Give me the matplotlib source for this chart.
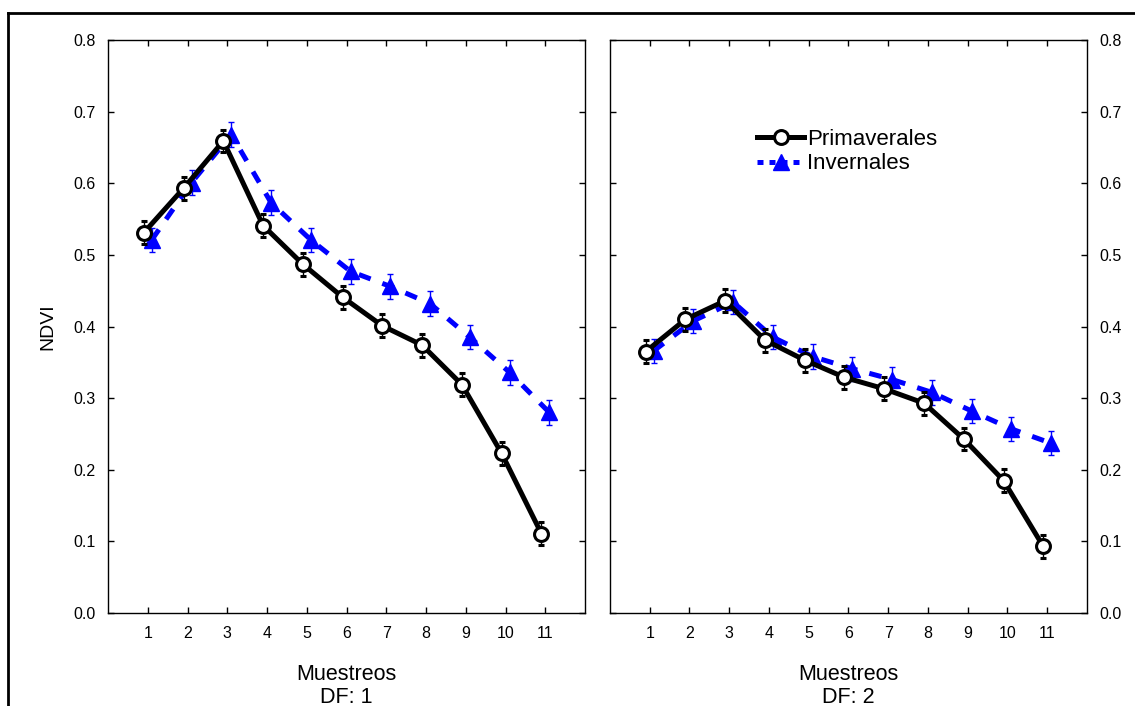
import numpy as np
import matplotlib
matplotlib.use("Agg")
import matplotlib.pyplot as plt
from matplotlib.lines import Line2D

plt.rcParams['font.family'] = ['Liberation Sans', 'DejaVu Sans']

# datos
muestreos = [1, 2, 3, 4, 5, 6, 7, 8, 9, 10, 11]
paneles = ['DF: 1', 'DF: 2']

prim_df1 = [0.531, 0.593, 0.659, 0.541, 0.487, 0.441, 0.401, 0.374, 0.319, 0.223, 0.111]
inv_df1 = [0.521, 0.601, 0.668, 0.573, 0.521, 0.477, 0.456, 0.432, 0.385, 0.336, 0.280]
prim_df2 = [0.365, 0.410, 0.436, 0.381, 0.353, 0.329, 0.313, 0.293, 0.243, 0.185, 0.093]
inv_df2 = [0.366, 0.408, 0.434, 0.385, 0.358, 0.341, 0.326, 0.308, 0.282, 0.257, 0.237]
err_prim = 0.016
err_inv = 0.017

prim = [prim_df1, prim_df2]
inv = [inv_df1, inv_df2]
azul = '#0000ff'

fig = plt.figure(figsize=(11.35, 7.06), dpi=100)
ax1 = fig.add_axes([0.0952, 0.1317, 0.4203, 0.8116])
ax2 = fig.add_axes([0.5374, 0.1317, 0.4203, 0.8116])

x = np.array(muestreos)
for i, ax in enumerate([ax1, ax2]):
    ax.errorbar(x - 0.1, prim[i], yerr=err_prim, color='black', lw=3.6,
                marker='o', ms=10, mfc='white', mec='black', mew=2.2,
                ecolor='black', elinewidth=1, capsize=2, capthick=1, zorder=3)
    ax.errorbar(x + 0.1, inv[i], yerr=err_inv, color=azul, lw=3.6,
                ls=(0, (2.5, 2.5)), marker='^', ms=11, mfc=azul, mec=azul,
                ecolor=azul, elinewidth=1, capsize=2, capthick=1, zorder=2)
    ax.set_xlim(0, 12)
    ax.set_ylim(0, 0.8)
    ax.set_xticks(muestreos)
    ax.set_yticks(np.arange(0, 0.81, 0.1))
    ax.yaxis.set_major_formatter(matplotlib.ticker.FormatStrFormatter('%.1f'))
    ax.tick_params(direction='in', top=True, right=True, left=True,
                   labelsize=11.5, length=4, width=1, pad=9)
    ax.set_xlabel('Muestreos\n' + paneles[i], fontsize=15.5, labelpad=17,
                  linespacing=1.1)
    for s in ax.spines.values():
        s.set_linewidth(1)

ax1.set_ylabel('NDVI', fontsize=14, labelpad=12)
ax2.tick_params(labelleft=False, labelright=True)

handles = [Line2D([], [], color='black', lw=3.6, marker='o', ms=10,
                  mfc='white', mec='black', mew=2.2),
           Line2D([], [], color=azul, lw=3.6, ls=(0, (1.2, 1.2)), marker='^',
                  ms=11, mfc=azul, mec=azul)]
ax2.legend(handles, ['Primaverales', 'Invernales'], loc='upper left',
           bbox_to_anchor=(0.29, 0.86), frameon=False, fontsize=16,
           handlelength=2.1, handletextpad=0.15, labelspacing=0.15,
           borderaxespad=0)

# marco exterior
fig.add_artist(Line2D([8 / 1135, 8 / 1135], [0, 1 - 13 / 706], color='black',
                      lw=2, transform=fig.transFigure))
fig.add_artist(Line2D([8 / 1135, 1], [1 - 13 / 706, 1 - 13 / 706], color='black',
                      lw=2, transform=fig.transFigure))

fig.savefig('out.png', dpi=100)
